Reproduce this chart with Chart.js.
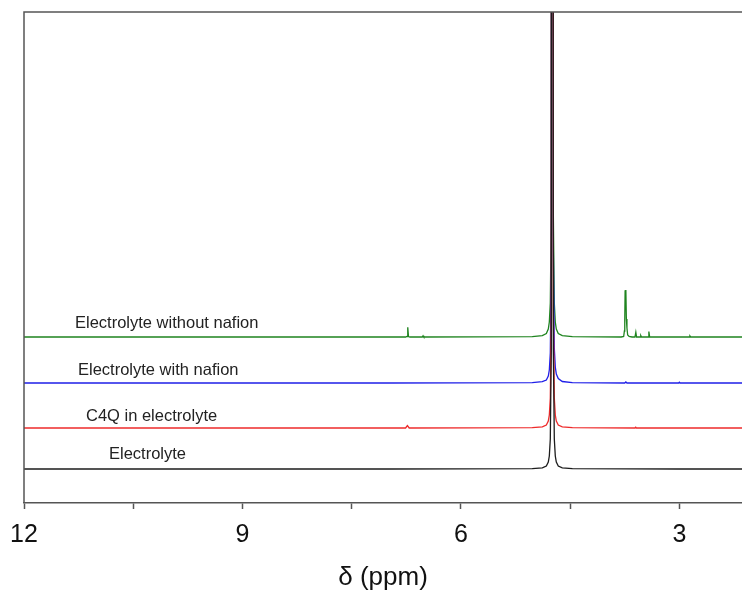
<!DOCTYPE html>
<html>
<head>
<meta charset="utf-8">
<script src="https://cdn.jsdelivr.net/npm/chart.js@4/dist/chart.umd.min.js"></script>
<style>
  html, body { margin: 0; padding: 0; background: #ffffff; }
  canvas { display: block; }
</style>
</head>
<body>
<canvas id="c" width="742" height="595"></canvas>
<script>
// ---- data (x = chemical shift, ppm; y = stacked intensity, arbitrary units) ----
const PPM_MIN = 2.14;
const PPM_MAX = 12;
const Y_MIN = 0;
const Y_MAX = 491;
const TICK_VALUES = [3, 4.5, 6, 7.5, 9, 10.5, 12];
const MAJOR_TICKS = [3, 6, 9, 12];
const AXIS_TITLE = 'δ (ppm)';

const SERIES_NAMES = ['Electrolyte', 'C4Q in electrolyte', 'Electrolyte with nafion', 'Electrolyte without nafion'];

const electrolyte = [
  [12, 34], [10.5, 34], [9, 34], [7, 34], [5.02, 34.3], [4.882, 35.2], [4.827, 37], [4.80, 41],
  [4.786, 47], [4.7725, 64], [4.759, 154], [4.745, 3000], [4.731, 154], [4.7175, 64], [4.704, 47],
  [4.69, 41], [4.663, 37], [4.608, 35.2], [4.47, 34.3], [3, 34], [2.14, 34]
];

const c4qInElectrolyte = [
  [12, 75], [9, 75], [6.76, 75], [6.735, 77.5], [6.71, 75], [5.02, 75.3], [4.882, 76.2], [4.827, 78],
  [4.80, 82], [4.786, 88], [4.7725, 105], [4.759, 195], [4.745, 3000], [4.731, 195], [4.7175, 105],
  [4.704, 88], [4.69, 82], [4.663, 78], [4.608, 76.2], [4.47, 75.3], [3.61, 75], [3.60, 75.8],
  [3.59, 75], [2.14, 75]
];

const electrolyteWithNafion = [
  [12, 120], [9, 120], [7, 120], [5.02, 120.3], [4.882, 121.3], [4.827, 123], [4.80, 127],
  [4.786, 133], [4.7725, 150], [4.759, 240], [4.745, 3000], [4.731, 255], [4.7175, 155],
  [4.704, 136], [4.69, 129], [4.663, 124.5], [4.608, 121.5], [4.47, 120.4], [3.75, 120],
  [3.735, 121], [3.72, 120], [3.01, 120], [3.0, 120.8], [2.99, 120], [2.14, 120]
];

const electrolyteWithoutNafion = [
  [12, 166], [9, 166], [6.76, 166], [6.74, 166.5], [6.73, 175.7], [6.72, 166.5], [6.70, 166],
  [6.53, 166], [6.52, 167.2], [6.51, 166], [5.02, 166.3], [4.882, 167.4], [4.827, 169.5],
  [4.80, 174], [4.786, 181], [4.7725, 200], [4.759, 290], [4.745, 3000], [4.731, 290],
  [4.7175, 200], [4.704, 181], [4.69, 174], [4.663, 169.5], [4.608, 167.4], [4.47, 166.3],
  [3.80, 166], [3.765, 166.5], [3.755, 172], [3.75, 183], [3.745, 212], [3.735, 213],
  [3.728, 184], [3.72, 175], [3.71, 168], [3.69, 166.5], [3.65, 166], [3.61, 166],
  [3.598, 170.8], [3.588, 166], [3.54, 166], [3.53, 167.5], [3.52, 166], [3.43, 166],
  [3.419, 171.5], [3.408, 166], [2.865, 166], [2.855, 167], [2.845, 166], [2.14, 166]
];

const SERIES_VALUES = [electrolyte, c4qInElectrolyte, electrolyteWithNafion, electrolyteWithoutNafion];
const SERIES_COLORS = ['#1c1c1c', '#ee2b2b', '#1f1fe8', '#1f841f'];

// ---- plugins ----
const framePlugin = {
  id: 'frame',
  afterDraw(chart) {
    const { ctx, chartArea: a } = chart;
    ctx.save();
    ctx.strokeStyle = '#555555';
    ctx.lineWidth = 1.5;
    ctx.beginPath();
    ctx.moveTo(a.left, a.bottom);
    ctx.lineTo(a.left, a.top);
    ctx.lineTo(a.right, a.top);
    ctx.stroke();
    ctx.restore();
  }
};

const seriesLabelPlugin = {
  id: 'seriesLabels',
  afterDraw(chart) {
    const { ctx, chartArea: a } = chart;
    const spots = [[85, 447], [62, 409], [54, 363], [51, 316]];
    ctx.save();
    ctx.font = '16.5px "Liberation Sans", Arial, sans-serif';
    ctx.fillStyle = '#222222';
    ctx.textBaseline = 'alphabetic';
    ctx.textAlign = 'left';
    SERIES_NAMES.forEach((name, i) => {
      ctx.fillText(name, a.left + spots[i][0], a.top + spots[i][1]);
    });
    ctx.restore();
  }
};

new Chart(document.getElementById('c'), {
  type: 'line',
  data: {
    datasets: SERIES_VALUES.map((vals, i) => ({
      label: SERIES_NAMES[i],
      data: vals.map(p => ({ x: p[0], y: p[1] })),
      borderColor: SERIES_COLORS[i],
      borderWidth: 1.3,
      pointRadius: 0,
      tension: 0,
      fill: false
    }))
  },
  options: {
    responsive: false,
    animation: false,
    layout: { padding: { left: 24, top: 12, right: 0, bottom: 0 } },
    plugins: { legend: { display: false }, tooltip: { enabled: false } },
    scales: {
      x: {
        type: 'linear',
        reverse: true,
        min: PPM_MIN,
        max: PPM_MAX,
        afterBuildTicks: s => { s.ticks = TICK_VALUES.map(v => ({ value: v })); },
        afterFit: s => { s.height = 92; },
        ticks: {
          autoSkip: false,
          maxRotation: 0,
          padding: 11,
          color: '#111111',
          font: { family: '"Liberation Sans", Arial, sans-serif', size: 25 },
          callback: v => (MAJOR_TICKS.includes(v) ? String(v) : '')
        },
        grid: {
          display: true,
          drawOnChartArea: false,
          drawTicks: true,
          tickLength: 6,
          tickColor: '#555555',
          tickWidth: 1.5
        },
        border: { display: true, color: '#555555', width: 1.5 },
        title: {
          display: true,
          text: AXIS_TITLE,
          color: '#111111',
          font: { family: '"Liberation Sans", Arial, sans-serif', size: 26 },
          padding: { top: 0, bottom: 2 }
        }
      },
      y: { display: false, min: Y_MIN, max: Y_MAX }
    }
  },
  plugins: [framePlugin, seriesLabelPlugin]
});
</script>
</body>
</html>
